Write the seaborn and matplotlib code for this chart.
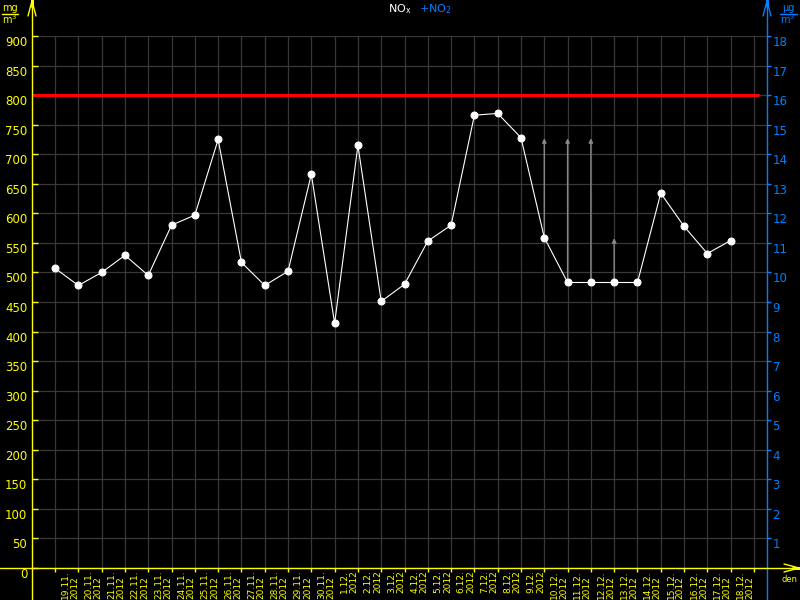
import pandas as pd
import seaborn as sns
import matplotlib.pyplot as plt
from matplotlib.lines import Line2D

# daily values, NOx in mg/m3 (left scale)
days = ["19.11.", "20.11.", "21.11.", "22.11.", "23.11.", "24.11.", "25.11.",
        "26.11.", "27.11.", "28.11.", "29.11.", "30.11.", "1.12.", "2.12.",
        "3.12.", "4.12.", "5.12.", "6.12.", "7.12.", "8.12.", "9.12.",
        "10.12.", "11.12.", "12.12.", "13.12.", "14.12.", "15.12.", "16.12.",
        "17.12.", "18.12."]
year = "2012"
nox = [507, 478, 500, 529, 495, 580, 597, 725, 517, 478, 502, 666, 414, 715,
       451, 480, 553, 580, 766, 769, 728, 559, 483, 483, 483, 483, 634, 578,
       532, 554]
limit = 800

# gray arrows (values going off above)
arrow_days = ["10.12.", "11.12.", "12.12.", "13.12."]
arrow_tops = [727, 727, 727, 558]

left_ticks = list(range(0, 901, 50))
right_ticks = list(range(1, 19))

YEL = "#ffff00"
BLUE = "#0080ff"
GRID = "#383838"

sns.set_theme(style="dark", rc={"axes.facecolor": "black",
                                "figure.facecolor": "black"})
plt.rcParams["font.family"] = ["DejaVu Sans"]

df = pd.DataFrame({"day": days, "nox": nox})
df["pos"] = range(len(df))

fig = plt.figure(figsize=(8, 6), dpi=100)
ax = fig.add_axes([32 / 800, 32 / 600, 735 / 800, 532 / 600])

sns.lineplot(data=df, x="pos", y="nox", ax=ax, color="white", linewidth=0.8,
             marker="o", markersize=5, markeredgecolor="white",
             markerfacecolor="white")

ax.axhline(limit, xmax=0.988, color="#ff0000", lw=2.2, zorder=3)

for d, top in zip(arrow_days, arrow_tops):
    p = days.index(d)
    ax.annotate("", xy=(p, top), xytext=(p, nox[p]),
                arrowprops=dict(arrowstyle="-|>", color="#888888", lw=1,
                                mutation_scale=6, shrinkA=0, shrinkB=0),
                zorder=1)

ax.set_xlim(-0.99, 30.56)
ax.set_ylim(0, 900)
ax.set_xlabel("")
ax.set_ylabel("")

# day boundaries as major ticks, labels in between
ax.set_xticks(range(len(days) + 1), labels=[])
ax.set_xticks([p + 0.64 for p in df["pos"]],
              labels=[f"{d}\n{year}" for d in days], minor=True,
              rotation=90, va="top", ha="center", multialignment="left",
              fontsize=6.5, color=YEL, linespacing=1.05)
ax.tick_params(axis="x", which="major", bottom=True, direction="out",
               length=3, color=YEL, width=1)
ax.tick_params(axis="x", which="minor", bottom=True, length=0, pad=1.5)

ax.set_yticks(left_ticks, labels=[str(v) for v in left_ticks], va="top")
ax.tick_params(axis="y", left=True, direction="in", length=4, color=YEL,
               labelcolor=YEL, labelsize=8.5, pad=3.5, width=1)

ax.grid(True, which="major", color=GRID, lw=0.9)
ax.set_axisbelow(True)
for s in ax.spines.values():
    s.set_visible(False)

ax2 = ax.twinx()
ax2.set_ylim(0, 18)
ax2.set_yticks(right_ticks, labels=[str(v) for v in right_ticks], va="top")
ax2.tick_params(axis="y", right=True, direction="out", length=3, color=BLUE,
                labelcolor=BLUE, labelsize=8.5, pad=1, width=1)
ax2.grid(False)
ax2.set_facecolor("none")
for s in ax2.spines.values():
    s.set_visible(False)


def fline(xs, ys, color, lw=1.0):
    fig.add_artist(Line2D([x / 800 for x in xs], [1 - y / 600 for y in ys],
                          color=color, lw=lw, transform=fig.transFigure))


# axis lines with arrow heads
fline([32, 32], [0, 600], YEL)
fline([28, 32, 36], [16, 1, 16], YEL)
fline([32, 32], [0, 6], YEL, lw=2.2)
fline([767, 767], [0, 600], BLUE)
fline([763, 767, 771], [16, 1, 16], BLUE)
fline([767, 767], [0, 6], BLUE, lw=2.2)
fline([0, 799], [568, 568], YEL)
fline([784, 799, 784], [564, 568, 572], YEL)
fline([793, 799], [568, 568], YEL, lw=2.2)
fig.text(790 / 800, 1 - 575 / 600, "den", color=YEL, fontsize=6,
         ha="center", va="top")

# units
fig.text(10 / 800, 1 - 11 / 600, "mg", color=YEL, fontsize=7, ha="center",
         va="baseline")
fline([2, 18], [14, 14], YEL)
fig.text(10 / 800, 1 - 24 / 600, "m$^3$", color=YEL, fontsize=7, ha="center",
         va="baseline")
fig.text(788 / 800, 1 - 11 / 600, "µg", color=BLUE, fontsize=7, ha="center",
         va="baseline")
fline([780, 797], [14, 14], BLUE)
fig.text(788 / 800, 1 - 24 / 600, "m$^3$", color=BLUE, fontsize=7,
         ha="center", va="baseline")

# title
fig.text(388 / 800, 1 - 2 / 600, "NO$_\\mathregular{x}$", color="white",
         fontsize=8, ha="left", va="top")
fig.text(419 / 800, 1 - 2 / 600, "+NO$_\\mathregular{2}$", color=BLUE,
         fontsize=8, ha="left", va="top")

fig.savefig("out.png", dpi=100, facecolor="black")
